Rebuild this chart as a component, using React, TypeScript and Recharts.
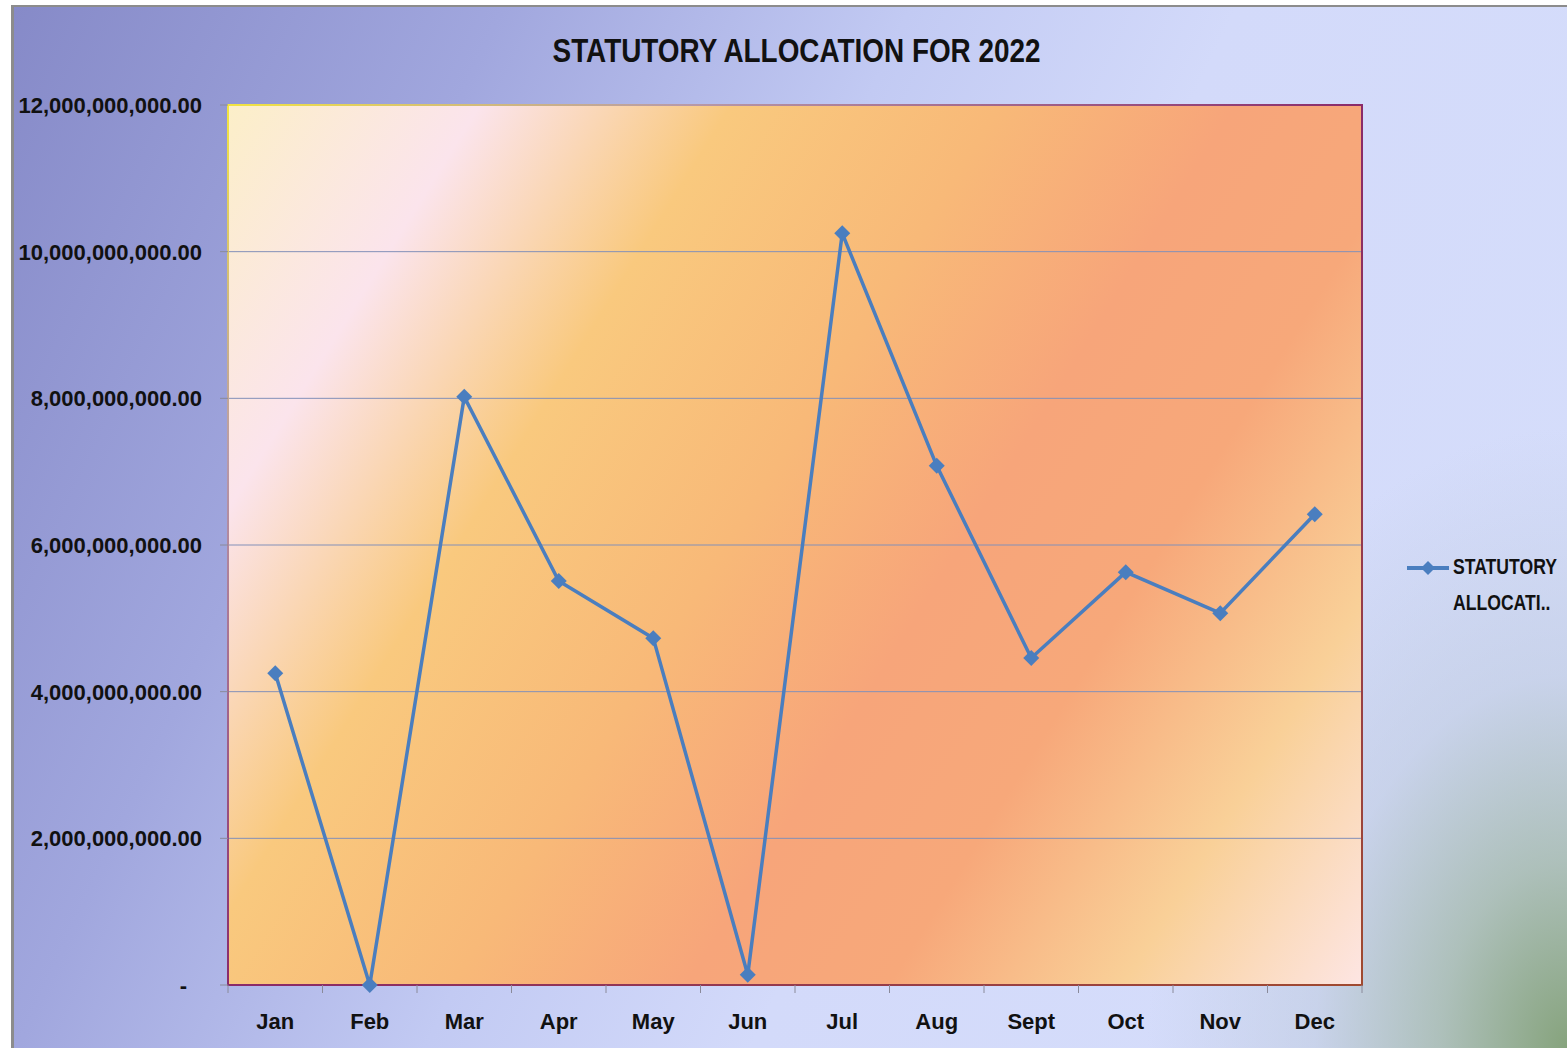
import React from "react";
import {
  LineChart, Line, XAxis, YAxis, CartesianGrid, Legend, ReferenceArea,
} from "recharts";

const months = ["Jan", "Feb", "Mar", "Apr", "May", "Jun", "Jul", "Aug", "Sept", "Oct", "Nov", "Dec"];
const allocation = [
  4.25e9, 0, 8.02e9, 5.51e9, 4.73e9, 0.14e9, 10.25e9, 7.08e9, 4.46e9, 5.63e9, 5.07e9, 6.42e9,
];
const yTicks = [0, 2e9, 4e9, 6e9, 8e9, 10e9, 12e9];
const seriesName = "STATUTORY ALLOCATION";

const data = months.map((m, i) => ({ month: m, value: allocation[i] }));

const LINE_COLOR = "#4a7ebf";
const PLOT_W = 1134;
const BAND = PLOT_W / months.length;
const LABEL_FONT = "'Liberation Sans', Arial, sans-serif";

function fmt(v: number) {
  if (v === 0) return "-";
  return v.toLocaleString("en-US", { minimumFractionDigits: 2, maximumFractionDigits: 2 });
}

function Diamond(props: any) {
  const { cx, cy, index } = props;
  if (cx == null || cy == null) return null;
  const r = 8;
  return (
    <path
      key={`d-${index}`}
      d={`M${cx},${cy - r}L${cx + r},${cy}L${cx},${cy + r}L${cx - r},${cy}Z`}
      fill={LINE_COLOR}
    />
  );
}

function XTick(props: any) {
  const { x, y, payload, index } = props;
  return (
    <g>
      <line x1={x - BAND / 2} y1={y} x2={x - BAND / 2} y2={y + 8} stroke="#8a8a9a" />
      {index === months.length - 1 && (
        <line x1={x + BAND / 2} y1={y} x2={x + BAND / 2} y2={y + 8} stroke="#8a8a9a" />
      )}
      <text
        x={x}
        y={y + 44}
        textAnchor="middle"
        fontFamily={LABEL_FONT}
        fontWeight="bold"
        fontSize={22}
        fill="#111"
      >
        {payload.value}
      </text>
    </g>
  );
}

function YTick(props: any) {
  const { x, y, payload } = props;
  const zero = payload.value === 0;
  return (
    <text
      x={zero ? x - 15 : x}
      y={y}
      dy="0.36em"
      textAnchor="end"
      fontFamily={LABEL_FONT}
      fontWeight="bold"
      fontSize={22}
      fill="#111"
    >
      {fmt(payload.value)}
    </text>
  );
}

function LegendContent(props: any) {
  const item = props.payload && props.payload[0];
  const name: string = item ? String(item.value) : seriesName;
  const words = name.split(" ");
  const second = words[1] && words[1].length > 8 ? words[1].slice(0, 8) + ".." : words[1];
  return (
    <div style={{ display: "flex", alignItems: "flex-start" }}>
      <svg width={48} height={30} style={{ flex: "none" }}>
        <line x1={2} y1={16} x2={44} y2={16} stroke={LINE_COLOR} strokeWidth={4} />
        <path d="M23,9L30,16L23,23L16,16Z" fill={LINE_COLOR} />
      </svg>
      <div
        style={{
          fontFamily: LABEL_FONT,
          fontWeight: "bold",
          fontSize: 22,
          lineHeight: "36px",
          color: "#111",
          marginTop: -3,
          whiteSpace: "nowrap",
          transform: "scaleX(0.8)",
          transformOrigin: "0 0",
        }}
      >
        <div>{words[0]}</div>
        <div>{second}</div>
      </div>
    </div>
  );
}

export default function App() {
  return (
    <div
      style={{
        position: "absolute",
        left: 0,
        top: 0,
        width: 1567,
        height: 1048,
        background: "#fff",
        overflow: "hidden",
      }}
    >
      <div
        style={{
          position: "absolute",
          left: 11,
          top: 5,
          width: 1556,
          height: 1043,
          boxSizing: "border-box",
          borderLeft: "3px solid #8c8c8c",
          borderTop: "2px solid #8c8c8c",
          background:
            "radial-gradient(ellipse 420px 620px at 100% 100%, rgba(130,160,118,0.95) 0%, rgba(160,182,165,0.75) 30%, rgba(185,198,215,0.45) 60%, rgba(210,220,245,0) 100%), linear-gradient(115deg, #868ac8 0%, #a1a7de 24%, #c2caf3 44%, #d3dafa 60%, #d6defb 100%)",
        }}
      >
        <div
          style={{
            position: "absolute",
            left: 6,
            top: 23,
            width: 1553,
            textAlign: "center",
            fontFamily: LABEL_FONT,
            fontWeight: "bold",
            fontSize: 34,
            lineHeight: "40px",
            color: "#111",
          }}
        >
          <span style={{ display: "inline-block", transform: "scaleX(0.82)" }}>
            STATUTORY ALLOCATION FOR 2022
          </span>
        </div>
        <LineChart
          width={1553}
          height={1041}
          data={data}
          margin={{ top: 98, right: 205, bottom: 0, left: 0 }}
        >
          <defs>
            <linearGradient id="plotFill" x1="0" y1="0" x2="1.2" y2="0.58">
              <stop offset="0" stopColor="#fcefc8" />
              <stop offset="0.15" stopColor="#fbe4ec" />
              <stop offset="0.3" stopColor="#f9c97e" />
              <stop offset="0.46" stopColor="#f8b978" />
              <stop offset="0.6" stopColor="#f7a57a" />
              <stop offset="0.72" stopColor="#f7a87a" />
              <stop offset="0.86" stopColor="#f9d098" />
              <stop offset="1" stopColor="#fde5e2" />
            </linearGradient>
            <linearGradient id="borderGrad" x1="0" y1="0" x2="1" y2="1">
              <stop offset="0" stopColor="#f2e440" />
              <stop offset="0.2" stopColor="#b89aa8" />
              <stop offset="0.5" stopColor="#8a2a6a" />
              <stop offset="1" stopColor="#a04a30" />
            </linearGradient>
          </defs>
          <CartesianGrid
            vertical={false}
            stroke="#8390b8"
            fill="url(#plotFill)"
            fillOpacity={1}
          />
          <ReferenceArea
            y1={0}
            y2={12e9}
            fill="none"
            stroke="url(#borderGrad)"
            strokeWidth={2}
          />
          <XAxis
            dataKey="month"
            scale="band"
            height={63}
            axisLine={false}
            tickLine={false}
            tickSize={0}
            tickMargin={0}
            interval={0}
            tick={<XTick />}
          />
          <YAxis
            width={214}
            domain={[0, 12e9]}
            ticks={yTicks}
            interval={0}
            axisLine={false}
            tickLine={{ stroke: "#8a8a9a" }}
            tickSize={8}
            tickMargin={18}
            tick={<YTick />}
          />
          <Legend
            layout="vertical"
            align="center"
            verticalAlign="middle"
            content={<LegendContent />}
            wrapperStyle={{ left: 1391, top: 545, width: 170 }}
          />
          <Line
            name={seriesName}
            dataKey="value"
            type="linear"
            stroke={LINE_COLOR}
            strokeWidth={3.5}
            dot={<Diamond />}
            activeDot={false}
            isAnimationActive={false}
          />
        </LineChart>
      </div>
    </div>
  );
}
